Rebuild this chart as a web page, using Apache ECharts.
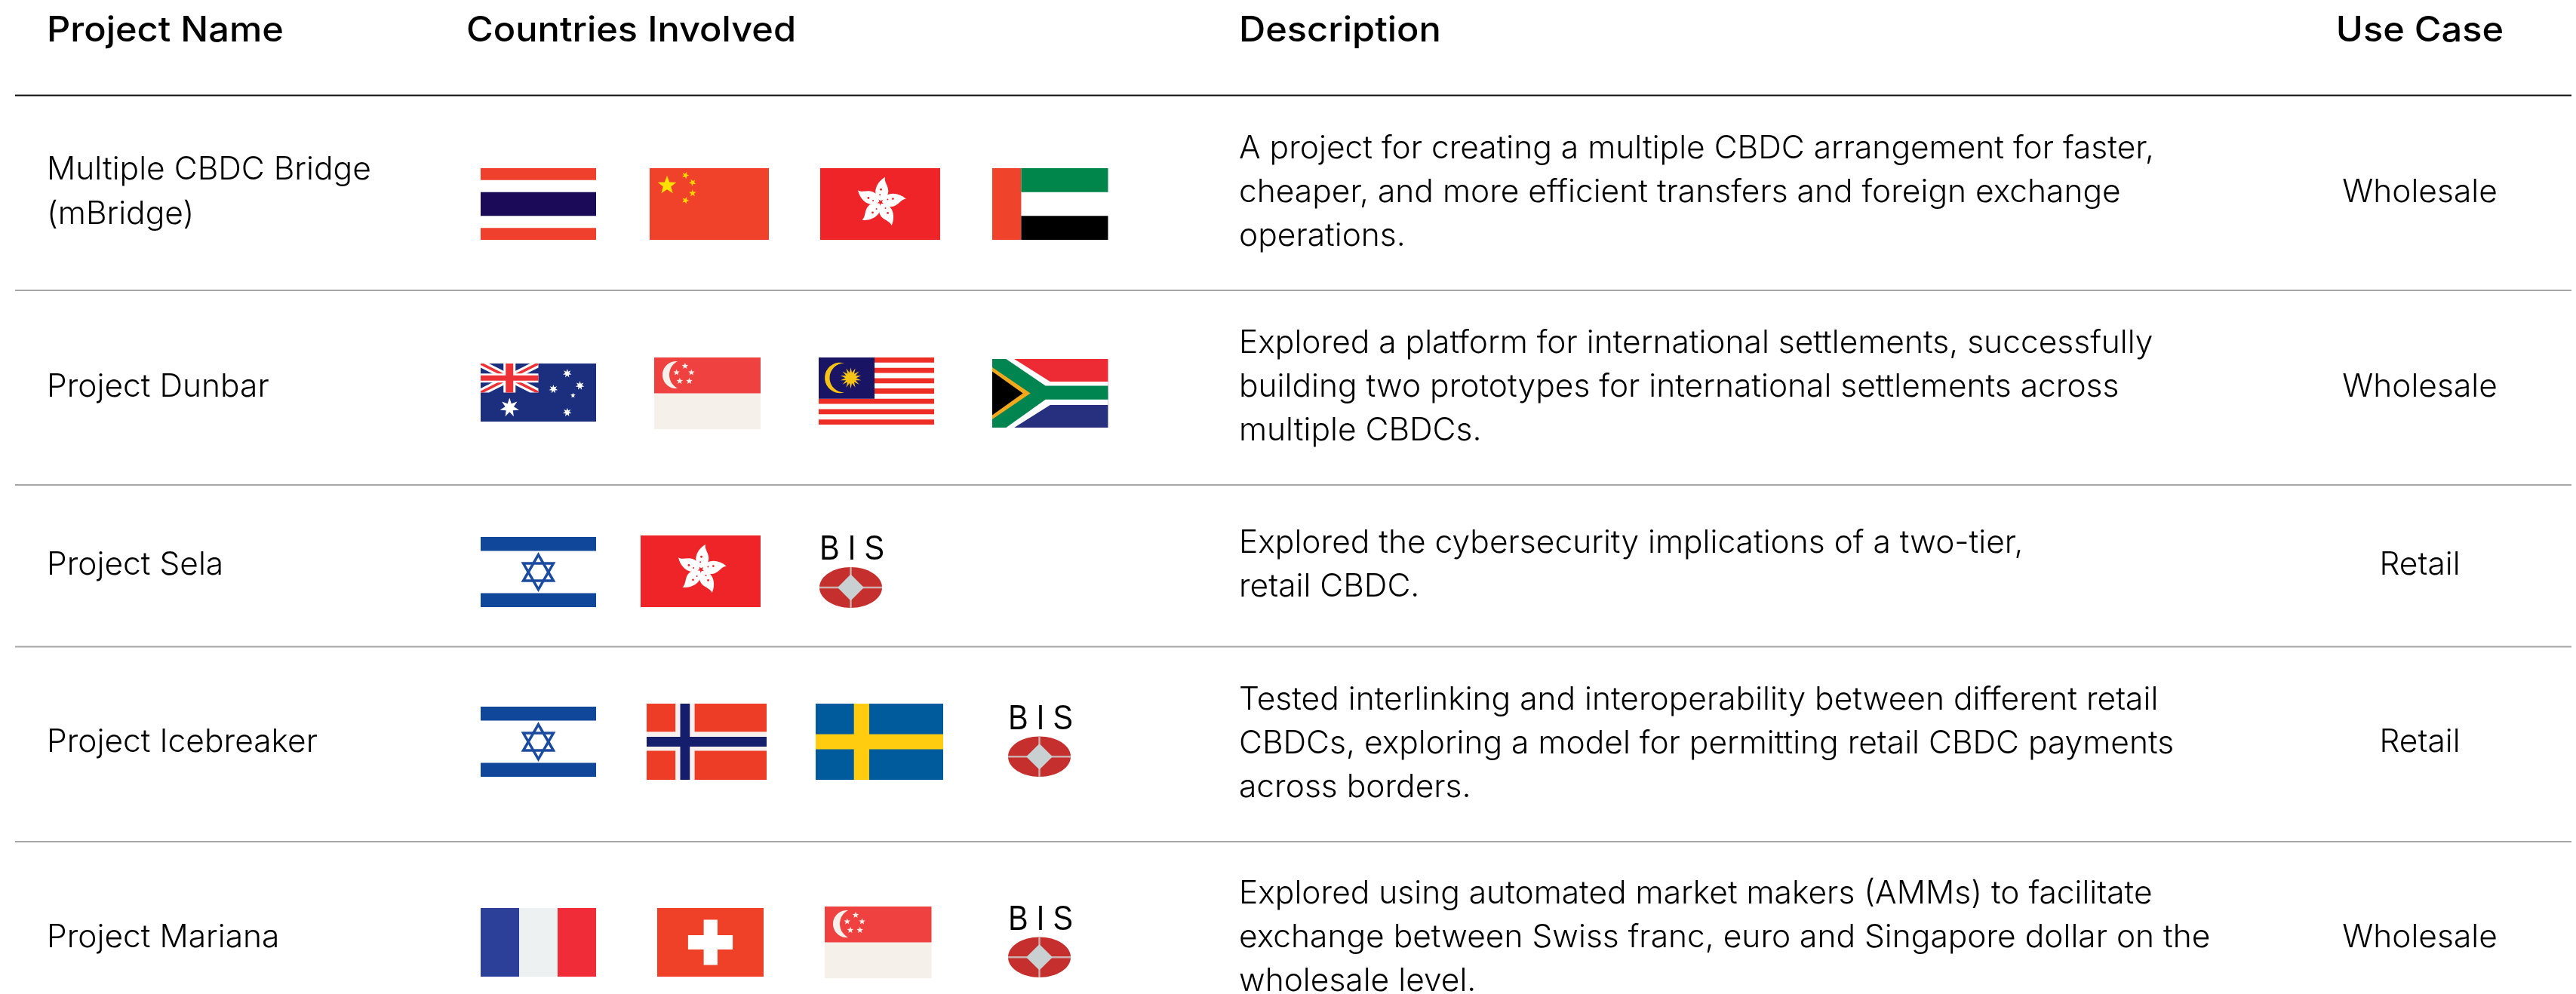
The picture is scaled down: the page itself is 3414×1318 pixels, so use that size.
<!DOCTYPE html>
<html><head><meta charset="utf-8">
<style>html,body{margin:0;padding:0;background:#fff}#c{width:3414px;height:1318px}</style>
<script src="https://cdn.jsdelivr.net/npm/echarts@6/dist/echarts.min.js"></script>
</head><body><div id="c"></div>
<script>
// ---------- content ----------
const headerLabels = ['Project Name', 'Countries Involved', 'Description', 'Use Case'];
const projectNames = [
  ['Multiple CBDC Bridge', '(mBridge)'],
  ['Project Dunbar'],
  ['Project Sela'],
  ['Project Icebreaker'],
  ['Project Mariana']
];
const participants = [
  ['TH', 'CN', 'HK', 'AE'],
  ['AU', 'SG', 'MY', 'ZA'],
  ['IL', 'HK', 'BIS'],
  ['IL', 'NO', 'SE', 'BIS'],
  ['FR', 'CH', 'SG', 'BIS']
];
const descriptions = [
  ['A project for creating a multiple CBDC arrangement for faster,', 'cheaper, and more efficient transfers and foreign exchange', 'operations.'],
  ['Explored a platform for international settlements, successfully', 'building two prototypes for international settlements across', 'multiple CBDCs.'],
  ['Explored the cybersecurity implications of a two-tier,', 'retail CBDC.'],
  ['Tested interlinking and interoperability between different retail', 'CBDCs, exploring a model for permitting retail CBDC payments', 'across borders.'],
  ['Explored using automated market makers (AMMs) to facilitate', 'exchange between Swiss franc, euro and Singapore dollar on the', 'wholesale level.']
];
const useCases = ['Wholesale', 'Wholesale', 'Retail', 'Retail', 'Wholesale'];

// ---------- layout (separate from the content) ----------
const W = 3414, H = 1318;
const headerY = 41;
const headerX = [62, 618, 1642, 3207];
const nameX = 62, descX = 1642, useX = 3207;
const rowCentres = [255, 513, 749, 984, 1243];
const nameLineStep = 59, descLineStep = 58;
const descRowCentres = [255, 513, 749, 986, 1243];
const ruleYs = [126.5, 385, 643, 857.5, 1116];
const ruleX = [20, 3408];
// x, y, w, h per participant slot
const slots = [
  [[637,223,153,95],[861,223,158,95],[1087,223,159,95],[1315,223,153.5,95]],
  [[637,482,153,77],[867,474,141,95],[1085,474,153,89],[1315,476,153.5,91]],
  [[637,712,153,93],[849,710,159,95],[1085,711,88,96]],
  [[637,937,153,93],[857,933,159,101],[1081,933,169,101],[1335,936,88,95]],
  [[637,1204,153,91],[871,1204,141,91],[1093,1202,141.5,95],[1335,1202,88,95]]
];

// ---------- drawing helpers ----------
const rect = (x,y,w,h,fill)=>({type:'rect',shape:{x,y,width:w,height:h},style:{fill}});
const poly = (points,fill)=>({type:'polygon',shape:{points},style:{fill}});
const path = (d,fill)=>({type:'path',shape:{pathData:d},style:{fill}});
function star(cx,cy,r,fill,n=5,inner=0.42,rot=-Math.PI/2){
  const p=[];
  for(let i=0;i<n*2;i++){
    const a=rot+i*Math.PI/n, rr=i%2?r*inner:r;
    p.push([cx+rr*Math.cos(a),cy+rr*Math.sin(a)]);
  }
  return poly(p,fill);
}
function hStripes(w,h,list){ // list of [from,to,color]
  return list.map(s=>rect(0,s[0]*h,w,(s[1]-s[0])*h,s[2]));
}
function bauhinia(cx,cy){
  const out=[];
  const rot=(a,x,y)=>[cx+x*Math.cos(a)-y*Math.sin(a),cy+x*Math.sin(a)+y*Math.cos(a)];
  for(let k=0;k<5;k++){
    const a=k*2*Math.PI/5+0.12;
    const pt=(x,y)=>rot(a,x,y).map(v=>v.toFixed(2)).join(' ');
    out.push(path('M'+pt(0,-2)+' C'+pt(-12,-7)+' '+pt(-11,-24)+' '+pt(2,-34)+' C'+pt(1,-26)+' '+pt(11,-21)+' '+pt(8,-11)+' C'+pt(6,-6)+' '+pt(2,-3)+' '+pt(0,-2)+' Z','#fff'));
    const dot=rot(a,-1.5,-17);
    out.push({type:'circle',shape:{cx:dot[0],cy:dot[1],r:1.4},style:{fill:'#EE2429'}});
    const dot2=rot(a,-2,-10);
    out.push({type:'circle',shape:{cx:dot2[0],cy:dot2[1],r:1},style:{fill:'#EE2429'}});
  }
  return out;
}
const FLAG = {
  TH:(w,h)=>hStripes(w,h,[[0,1/6,'#EF402D'],[1/3,2/3,'#1B0A58'],[5/6,1,'#EF402D']]),
  CN:(w,h)=>[rect(0,0,w,h,'#F0412A'),
    star(.146*w,.24*h,13,'#FFE000'),
    star(.30*w,.10*h,5,'#FFD500',5,.42,-1.2),star(.36*w,.2*h,5,'#FFD500',5,.42,-.8),
    star(.36*w,.35*h,5,'#FFD500',5,.42,-1.6),star(.30*w,.45*h,5,'#FFD500',5,.42,-1.2)],
  HK:(w,h)=>[rect(0,0,w,h,'#EE2429'),...bauhinia(.503*w,.477*h)],
  AE:(w,h)=>[rect(0,0,.25*w,h,'#EF432B'),rect(.25*w,0,.75*w,h/3,'#00864A'),rect(.25*w,2*h/3,.75*w,h/3,'#000')],
  AU:(w,h)=>{
    const cw=w/2,ch=h/2,diag=(t,c)=>{const d=t*ch/cw;return [
      poly([[0,0],[t,0],[cw,ch-d],[cw,ch],[cw-t,ch],[0,d]],c),
      poly([[cw,0],[cw-t,0],[0,ch-d],[0,ch],[t,ch],[cw,d]],c)];};
    return [rect(0,0,w,h,'#1C2F7E'),...diag(11,'#fff'),...diag(4,'#EC3237'),
      rect(cw/2-8,0,16,ch,'#fff'),rect(0,ch/2-6,cw,12,'#fff'),
      rect(cw/2-5,0,10,ch,'#EC3237'),rect(0,ch/2-3.5,cw,7,'#EC3237'),
      star(.25*w,.76*h,13,'#fff',7,.45),star(.75*w,.17*h,6,'#fff',7,.45),star(.86*w,.38*h,6,'#fff',7,.45),
      star(.63*w,.44*h,6,'#fff',7,.45),star(.80*w,.55*h,3.5,'#fff',5,.45),star(.75*w,.84*h,6,'#fff',7,.45)];
  },
  SG:(w,h)=>[rect(0,h/2,w,h/2,'#F6F0EB'),rect(0,0,w,h/2,'#EF4140'),
    path('M31 5 A18.1 18.1 0 1 0 31 41 A20.2 20.2 0 0 1 31 5 Z','#F6F0EB'),
    star(.29*w,.12*h,4.5,'#F6F0EB'),star(.35*w,.21*h,4.5,'#F6F0EB'),star(.33*w,.33*h,4.5,'#F6F0EB'),
    star(.24*w,.33*h,4.5,'#F6F0EB'),star(.21*w,.21*h,4.5,'#F6F0EB')],
  MY:(w,h)=>{
    const s=[];for(let i=0;i<7;i++)s.push(rect(0,i*2*h/13,w,h/13,'#EE2E24'));
    return [...s,rect(0,0,.484*w,8*h/13,'#1A1464'),
      path('M34 7.5 A20.3 20.3 0 1 0 34 46.5 A19.5 19.5 0 0 1 34 7.5 Z','#F5C315'),
      star(.278*w,.305*h,14,'#F5C315',14,.5)];
  },
  ZA:(w,h)=>{
    const P=a=>a.map(p=>[p[0]*w,p[1]*h]);
    return [rect(0,0,w,h/2,'#EC2B35'),rect(0,h/2,w,h/2,'#26307F'),
      poly(P([[0,0],[.19,0],[.50,.33],[1,.33],[1,.67],[.50,.67],[.19,1],[0,1]]),'#fff'),
      poly(P([[0,0],[.12,0],[.46,.39],[1,.39],[1,.59],[.46,.59],[.12,1],[0,1]]),'#008551'),
      poly(P([[0,.12],[.33,.5],[0,.88]]),'#F2A81D'),
      poly(P([[0,.18],[.265,.5],[0,.82]]),'#000')];
  },
  IL:(w,h)=>{
    const tri=(d)=>{const c=[.5*w,.5*h],r=23,p=[];
      for(let i=0;i<3;i++){const a=d+i*2*Math.PI/3;p.push([c[0]+r*Math.cos(a),c[1]+r*Math.sin(a)]);}
      return {type:'polygon',shape:{points:p},style:{fill:'none',stroke:'#1B4B9E',lineWidth:3.5}};};
    return [rect(0,0,w,.2*h,'#11479A'),rect(0,.8*h,w,.2*h,'#11479A'),tri(-Math.PI/2),tri(Math.PI/2)];
  },
  NO:(w,h)=>[rect(0,0,w,h,'#EE3D27'),rect(.24*w,0,.16*w,h,'#F8F0EE'),rect(0,.37*h,w,.25*h,'#F8F0EE'),
    rect(.28*w,0,.08*w,h,'#141E6B'),rect(0,.435*h,w,.13*h,'#141E6B')],
  SE:(w,h)=>[rect(0,0,w,h,'#005B9C'),rect(.30*w,0,.12*w,h,'#FFCC0F'),rect(0,.40*h,w,.20*h,'#FFCC0F')],
  FR:(w,h)=>[rect(0,0,w/3,h,'#2C409A'),rect(w/3,0,w/3,h,'#EEF1F2'),rect(2*w/3,0,w/3,h,'#EF2C38')],
  CH:(w,h)=>[rect(0,0,w,h,'#EF4028'),rect(.437*w,.17*h,.13*w,.66*h,'#fff'),rect(.29*w,.395*h,.42*w,.21*h,'#fff')],
  BIS:(w,h)=>{
    const cy=.708*h,ry=.281*h,cx=.483*w,rx=.472*w;
    return [
      {type:'text',x:.5*w,y:.185*h,scaleX:.84,style:{text:'B I S',font:'400 47px "Liberation Sans"',fill:'#000',align:'center',verticalAlign:'middle'}},
      {type:'ellipse',shape:{cx,cy,rx,ry},style:{fill:'#C5302E'}},
      rect(cx-rx,cy-1.2,2*rx,2.4,'#CDB0AE'),rect(cx-1.2,cy-ry,2.4,2*ry,'#CDB0AE'),
      poly([[cx,cy-.65*ry],[cx+.42*rx,cy],[cx,cy+.65*ry],[cx-.42*rx,cy]],'#C9D0D1')
    ];
  }
};

// ---------- series data ----------
const rulesData = ruleYs.map((y,i)=>[ruleX[0],y,ruleX[1],i===0?1:0]);
const flagData = [];
participants.forEach((row,r)=>row.forEach((code,c)=>flagData.push([slots[r][c][0],slots[r][c][1],slots[r][c][2],slots[r][c][3],code])));

const BODY_FONT = '300 42px Inter, Lato';
const HEAD_FONT = '500 46px Inter, Lato';
const BODY_FILL = '#000', HEAD_FILL = '#000';
const BODY_SX = 1.012, HEAD_SX = 1.06;

function txt(p, t, font, fill, align, sx){
  return {type:'text',x:p[0],y:p[1],scaleX:sx,style:{text:t,font,fill,align,verticalAlign:'middle'}};
}

const chart = echarts.init(document.getElementById('c'), null, {renderer:'canvas', width:W, height:H});
chart.setOption({
  backgroundColor:'#fff',
  animation:false,
  tooltip:{show:false},
  grid:{left:0,right:0,top:0,bottom:0},
  xAxis:{type:'value',min:0,max:W,show:false},
  yAxis:{type:'value',min:0,max:H,inverse:true,show:false},
  series:[
    { type:'custom', name:'rules', clip:false, silent:true, data:rulesData,
      renderItem:(params,api)=>{
        const a=api.coord([api.value(0),api.value(1)]), b=api.coord([api.value(2),api.value(1)]), strong=api.value(3)===1;
        return {type:'line',shape:{x1:a[0],y1:a[1],x2:b[0],y2:b[1]},style:{stroke:strong?'#111':'#A6A6A6',lineWidth:strong?2:2.2}};
      }},
    { type:'custom', name:'header', clip:false, silent:true, data:headerLabels.map((l,i)=>[headerX[i],headerY]),
      renderItem:(params,api)=>{
        const i=params.dataIndex;
        return txt(api.coord([api.value(0),api.value(1)]),headerLabels[i],HEAD_FONT,HEAD_FILL,i===3?'center':'left',HEAD_SX);
      }},
    { type:'custom', name:'rows', clip:false, silent:true, data:rowCentres.map((y,i)=>[nameX,y]),
      renderItem:(params,api)=>{
        const r=params.dataIndex, kids=[];
        const names=projectNames[r], d=descriptions[r];
        names.forEach((t,j)=>kids.push(txt(api.coord([nameX,rowCentres[r]+(j-(names.length-1)/2)*nameLineStep]),t,BODY_FONT,BODY_FILL,'left',BODY_SX)));
        d.forEach((t,j)=>kids.push(txt(api.coord([descX,descRowCentres[r]+(j-(d.length-1)/2)*descLineStep]),t,BODY_FONT,BODY_FILL,'left',BODY_SX)));
        kids.push(txt(api.coord([useX,rowCentres[r]]),useCases[r],BODY_FONT,BODY_FILL,'center',BODY_SX));
        return {type:'group',children:kids};
      }},
    { type:'custom', name:'flags', clip:false, silent:true, data:flagData,
      dimensions:['x','y','w','h',{name:'code',type:'ordinal'}],
      renderItem:(params,api)=>{
        const it=flagData[params.dataIndex];
        const o=api.coord([it[0],it[1]]);
        return {type:'group',x:o[0],y:o[1],children:FLAG[it[4]](it[2],it[3])};
      }}
  ]
});
</script></body></html>
